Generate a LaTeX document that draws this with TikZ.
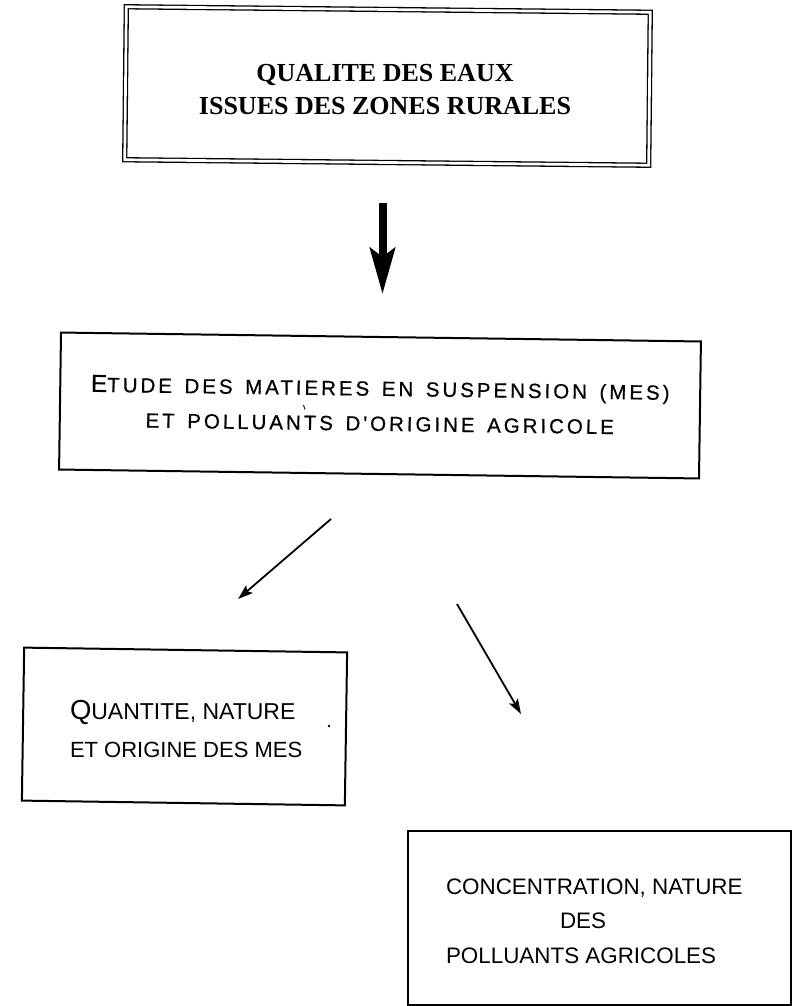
\documentclass[tikz,border=0pt]{standalone}
\usepackage{fontspec}
\setmainfont{Liberation Serif}
\newfontfamily\hsans{Liberation Sans}
\newfontfamily\hsanswide[LetterSpace=14.5,WordSpace=1.45,FakeBold=0.6]{Liberation Sans}
\usetikzlibrary{arrows.meta}
\begin{document}
\begin{tikzpicture}[x=1pt,y=-1pt,
  frame/.style={draw, line width=2pt, inner sep=0pt},
  doubleframe/.style={draw, double, double distance=2.7pt, line width=1.3pt, inner sep=0pt},
  lbl/.style={inner sep=0pt, outer sep=0pt},
  thinarrow/.style={line width=1.8pt, -{Stealth[length=15pt,width=10pt,inset=3pt]}},
  bigarrow/.style={line width=8pt, -{Stealth[length=46pt,width=25pt,inset=9pt]}}]
\useasboundingbox (0,0) rectangle (797,1006);

% top box
\node[doubleframe, minimum width=524pt, minimum height=153pt, rotate=-0.6] (topbox) at (387.5,86) {};
\node[lbl, align=center, font=\bfseries\fontsize{26}{33}\selectfont] (toptext) at (385,90)
  {QUALITE DES EAUX\\ISSUES DES ZONES RURALES};

% middle box
\node[frame, minimum width=640pt, minimum height=137pt, rotate=-0.8] (midbox) at (380,405.5) {};
\node[lbl, rotate=-0.8, align=center, font=\hsanswide\fontsize{20.5}{35}\selectfont] (midtext) at (380,405)
  {{\fontsize{24.5}{35}\selectfont E}TUDE DES MATIERES EN SUSPENSION (MES)\\ET POLLUANTS D'ORIGINE AGRICOLE};

% left box
\node[frame, minimum width=323pt, minimum height=153pt, rotate=-0.85] (leftbox) at (184.5,726.5) {};
\node[lbl, anchor=west, align=left, font=\hsans\fontsize{22}{38}\selectfont] (lefttext) at (70,729)
  {{\fontsize{27.5}{38}\selectfont Q}{\fontsize{23}{38}\selectfont UANTITE, NATURE}\\ET ORIGINE DES MES};

% right box
\node[frame, minimum width=383pt, minimum height=174pt] (rightbox) at (599.5,917.5) {};
\node[lbl, anchor=west, align=left, font=\hsans\fontsize{22.4}{34.5}\selectfont] (righttext) at (446,921)
  {CONCENTRATION, NATURE\\\hspace*{114pt}DES\\POLLUANTS AGRICOLES};

% arrows
\coordinate (a1s) at (382.5,203);
\coordinate (a1e) at (382.5,294);
\draw[bigarrow] (a1s) -- (a1e);
\coordinate (a2s) at (331,519);
\coordinate (a2e) at (238,599);
\draw[thinarrow] (a2s) -- (a2e);
\coordinate (a3s) at (457,604);
\coordinate (a3e) at (521,714);
\draw[thinarrow] (a3s) -- (a3e);

% small marks
\fill (329,726) circle (1.3pt);
\draw[line width=0.9pt] (303.5,405) -- (305,409.5);
\end{tikzpicture}
\end{document}
